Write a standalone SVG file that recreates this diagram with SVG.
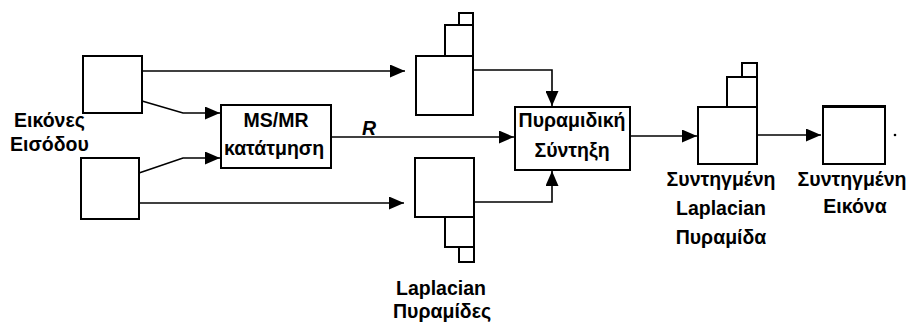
<svg xmlns="http://www.w3.org/2000/svg" width="908" height="324" viewBox="0 0 908 324">
<style>
.box{fill:#fff;stroke:#000;stroke-width:2}
.ln{fill:none;stroke:#000;stroke-width:1.6}
text{font-family:"Liberation Sans",Arial,sans-serif;font-weight:bold;font-size:19.5px;fill:#000}
.c{text-anchor:middle}
</style>
<defs>
<marker id="ah" markerUnits="userSpaceOnUse" markerWidth="15" markerHeight="13" refX="15" refY="6.5" orient="auto">
<path d="M0,0 L15,6.5 L0,13 z" fill="#000"/>
</marker>
</defs>
<g id="connectors">
<polyline class="ln" points="142,71 405,71" marker-end="url(#ah)"/>
<polyline class="ln" points="142,101 183,113 220,113" marker-end="url(#ah)"/>
<polyline class="ln" points="139,173 183,158 220,158" marker-end="url(#ah)"/>
<polyline class="ln" points="139,203 404,203" marker-end="url(#ah)"/>
<polyline class="ln" points="331,137 514,137" marker-end="url(#ah)"/>
<polyline class="ln" points="473,70 552,70 552,106" marker-end="url(#ah)"/>
<polyline class="ln" points="474,202 552,202 552,171" marker-end="url(#ah)"/>
<polyline class="ln" points="630,136 697,136" marker-end="url(#ah)"/>
<polyline class="ln" points="757,135 821,135" marker-end="url(#ah)"/>
</g>
<g id="input1"><rect class="box" x="83" y="56" width="59" height="57"/></g>
<g id="input2"><rect class="box" x="81" y="158" width="58" height="61"/></g>
<g id="input-label">
<text x="14" y="127" font-size="18.5">Εικόνες</text>
<text x="10" y="151" font-size="18.5">Εισόδου</text>
</g>
<g id="msmr">
<rect class="box" x="221" y="105" width="110" height="63"/>
<text class="c" x="276" y="127">MS/MR</text>
<text class="c" x="274" y="155" font-size="18.5">κατάτμηση</text>
</g>
<g id="r-label"><text x="362" y="135" font-style="italic">R</text></g>
<g id="pyr-top">
<rect class="box" x="459" y="13" width="14" height="12"/>
<rect class="box" x="445" y="25" width="28" height="31"/>
<rect class="box" x="416" y="56" width="57" height="59"/>
</g>
<g id="pyr-bottom">
<rect class="box" x="459" y="247" width="15" height="15"/>
<rect class="box" x="445" y="217" width="29" height="30"/>
<rect class="box" x="415" y="158" width="59" height="59"/>
<text class="c" x="441" y="295">Laplacian</text>
<text class="c" x="442" y="318">Πυραμίδες</text>
</g>
<g id="fusion">
<rect class="box" x="515" y="107" width="115" height="63"/>
<text class="c" x="572" y="127">Πυραμιδική</text>
<text class="c" x="572" y="157">Σύντηξη</text>
</g>
<g id="pyr-fused">
<rect class="box" x="742" y="63" width="15" height="14"/>
<rect class="box" x="727" y="77" width="30" height="30"/>
<rect class="box" x="698" y="107" width="59" height="57"/>
<text class="c" x="721" y="186">Συντηγμένη</text>
<text class="c" x="721" y="215">Laplacian</text>
<text class="c" x="721" y="244">Πυραμίδα</text>
</g>
<g id="fused-image">
<rect class="box" x="823" y="106" width="62" height="58"/>
<line x1="822" y1="106.5" x2="886" y2="106.5" stroke="#000" stroke-width="3"/>
<text class="c" x="852" y="186">Συντηγμένη</text>
<text class="c" x="855" y="213">Εικόνα</text>
</g>
<circle cx="895" cy="135" r="1.3" fill="#000"/>
</svg>
